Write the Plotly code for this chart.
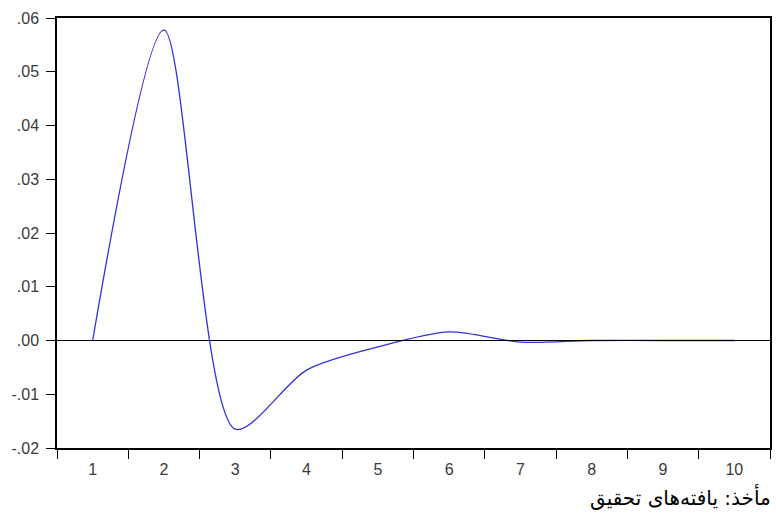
import plotly.graph_objects as go

periods = [1, 2, 3, 4, 5, 6, 7, 8, 9, 10]
response = [0.0, 0.0578, -0.0165, -0.0055, -0.0012, 0.0016, -0.0003, 0.0, 0.0, 0.0]

y_tick_vals = [0.06, 0.05, 0.04, 0.03, 0.02, 0.01, 0.0, -0.01, -0.02]
y_tick_text = [".06", ".05", ".04", ".03", ".02", ".01", ".00", "-.01", "-.02"]
x_minor_ticks = [0.5, 1.5, 2.5, 3.5, 4.5, 5.5, 6.5, 7.5, 8.5, 9.5, 10.5]
caption = "مأخذ: یافته‌های تحقیق"

fig = go.Figure()
fig.add_trace(go.Scatter(
    x=periods, y=response, mode="lines",
    line=dict(color="#3030e0", width=1.3, shape="spline", smoothing=0.8),
    showlegend=False, hoverinfo="skip",
))

fig.add_hline(y=0, line=dict(color="black", width=1.2))

fig.update_layout(
    width=776, height=516,
    margin=dict(l=57, r=4, t=18, b=68),
    paper_bgcolor="white", plot_bgcolor="white",
    font=dict(family="Liberation Sans, Arial", size=16, color="#3a3a3a"),
    xaxis=dict(
        range=[0.5, 10.5], tickmode="array", tickvals=periods,
        ticktext=[str(p) for p in periods],
        ticks="", showgrid=False, zeroline=False, ticklabelstandoff=6,
        showline=True, linecolor="black", linewidth=1.5, mirror=True,
        minor=dict(tickmode="array", tickvals=x_minor_ticks, ticks="outside",
                   ticklen=9, tickcolor="black", tickwidth=1.2),
    ),
    yaxis=dict(
        range=[-0.02, 0.06], tickmode="array", tickvals=y_tick_vals,
        ticktext=y_tick_text, ticks="outside", ticklen=9, tickcolor="black",
        tickwidth=1.2, showgrid=False, zeroline=False, ticklabelstandoff=4,
        showline=True, linecolor="black", linewidth=1.5, mirror=True,
    ),
)

fig.add_annotation(
    text=caption, xref="paper", yref="paper", x=1.0, y=-0.115,
    xanchor="right", yanchor="middle", showarrow=False, xshift=3,
    font=dict(family="DejaVu Sans", size=20, color="black"),
)

fig.write_html("out.html", config={"displayModeBar": False},
               post_script="document.body.style.margin='0';document.body.style.padding='0';")
